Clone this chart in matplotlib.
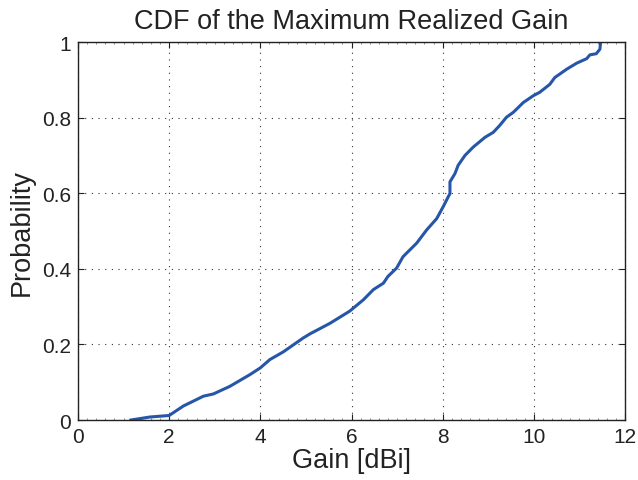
import matplotlib
matplotlib.use("Agg")
import matplotlib.pyplot as plt
from matplotlib.ticker import MultipleLocator

plt.rcParams['font.family'] = ['Liberation Sans', 'DejaVu Sans']

# empirical CDF of the maximum realized gain, traced as (gain, probability)
gain = [1.16, 1.58, 2.00, 2.31, 2.75, 2.97, 3.33, 3.77, 4.00, 4.21, 4.50,
        4.94, 5.09, 5.53, 5.96, 6.26, 6.48, 6.70, 6.80, 6.99, 7.13, 7.43,
        7.65, 7.87, 8.01, 8.12, 8.16, 8.16, 8.27, 8.34, 8.49, 8.67, 8.93,
        9.11, 9.25, 9.40, 9.55, 9.77, 9.99, 10.13, 10.35, 10.46, 10.72,
        10.94, 11.16, 11.23, 11.37, 11.45, 11.46, 11.47]
prob = [0.000, 0.008, 0.012, 0.037, 0.063, 0.069, 0.089, 0.120, 0.138, 0.160,
        0.180, 0.217, 0.228, 0.256, 0.288, 0.318, 0.345, 0.362, 0.380, 0.402,
        0.432, 0.468, 0.503, 0.533, 0.564, 0.590, 0.599, 0.630, 0.652, 0.674,
        0.700, 0.722, 0.748, 0.761, 0.779, 0.801, 0.814, 0.840, 0.858, 0.867,
        0.888, 0.906, 0.928, 0.944, 0.956, 0.966, 0.969, 0.981, 0.994, 1.000]

xticks = [0, 2, 4, 6, 8, 10, 12]
yticks = [0, 0.2, 0.4, 0.6, 0.8, 1]
ytick_labels = ['0', '0.2', '0.4', '0.6', '0.8', '1']

fig = plt.figure(figsize=(6.38, 4.81), dpi=100)
ax = fig.add_axes([0.1223, 0.1247, 0.8573, 0.7859])

ax.plot(gain, prob, color='#2656a8', lw=2.2, solid_joinstyle='round')

ax.set_xlim(0, 12)
ax.set_ylim(0, 1)
ax.set_xticks(xticks)
ax.set_xticklabels([str(t) for t in xticks])
ax.set_yticks(yticks)
ax.set_yticklabels(ytick_labels)
ax.xaxis.set_minor_locator(MultipleLocator(0.2))
ax.tick_params(which='major', direction='in', top=True, right=True, length=4,
               labelsize=15, colors='#222222', pad=5)
ax.tick_params(which='minor', direction='in', top=True, bottom=True,
               length=1.5, width=0.6, colors='#777777')
ax.grid(True, which='major', linestyle=(0, (1, 5)), color='#333333', lw=0.8)
for s in ax.spines.values():
    s.set_color('#222222')
    s.set_linewidth(1.0)

ax.set_xlabel('Gain [dBi]', fontsize=19.5, color='#222222', labelpad=1)
ax.set_ylabel('Probability', fontsize=19.5, color='#222222', labelpad=5)
ax.set_title('CDF of the Maximum Realized Gain', fontsize=19.5,
             color='#222222', pad=10)

fig.savefig('out.png', dpi=100)
